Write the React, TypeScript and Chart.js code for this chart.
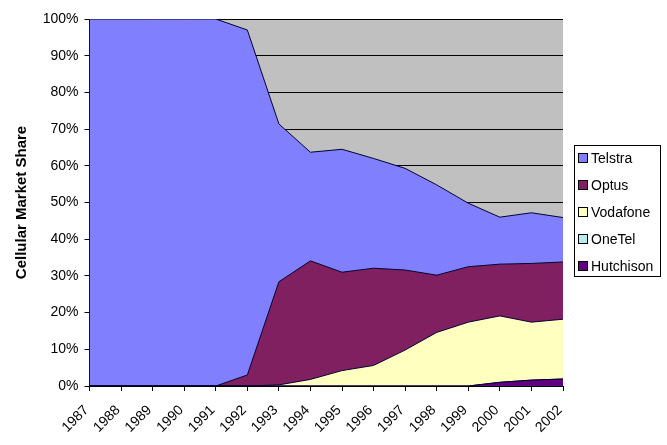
import React, { useEffect, useRef } from "react";
import { Chart, registerables } from "chart.js";

Chart.register(...registerables);

const years = ["1987", "1988", "1989", "1990", "1991", "1992", "1993", "1994", "1995", "1996", "1997", "1998", "1999", "2000", "2001", "2002"];
const telstra = [100, 100, 100, 100, 100, 94.0, 43.0, 29.6, 33.5, 29.9, 27.7, 24.6, 17.3, 12.8, 13.8, 12.1];
const optus = [0, 0, 0, 0, 0, 3.0, 28.1, 32.3, 26.8, 26.5, 21.8, 15.6, 15.1, 14.1, 16.0, 15.6];
const vodafone = [0, 0, 0, 0, 0, 0, 0.3, 1.8, 4.2, 5.6, 9.8, 14.6, 17.4, 18.1, 15.8, 16.3];
const onetel = [0, 0, 0, 0, 0, 0, 0, 0, 0, 0, 0, 0, 0, 0, 0, 0];
const hutchison = [0, 0, 0, 0, 0, 0, 0, 0, 0, 0, 0, 0, 0, 1.0, 1.6, 1.9];

const colors = {
  Telstra: "#8080FF",
  Optus: "#802060",
  Vodafone: "#FFFFC0",
  OneTel: "#B8ECEC",
  Hutchison: "#600080",
};

const legendNames = ["Telstra", "Optus", "Vodafone", "OneTel", "Hutchison"];

const plotBg = {
  id: "plotBg",
  beforeDraw(chart) {
    const { ctx, chartArea } = chart;
    ctx.save();
    ctx.fillStyle = "#C0C0C0";
    ctx.fillRect(chartArea.left, chartArea.top, chartArea.right - chartArea.left, chartArea.bottom - chartArea.top);
    ctx.restore();
  },
};

export default function App() {
  const canvasRef = useRef<HTMLCanvasElement>(null);

  useEffect(() => {
    document.body.style.margin = "0";
    const ctx = canvasRef.current?.getContext("2d");
    if (!ctx) return;

    // bottom of the stack first
    const series = [
      { name: "Hutchison", data: hutchison },
      { name: "OneTel", data: onetel },
      { name: "Vodafone", data: vodafone },
      { name: "Optus", data: optus },
      { name: "Telstra", data: telstra },
    ];

    const chart = new Chart(ctx, {
      type: "line",
      data: {
        labels: years,
        datasets: series.map((s, i) => ({
          label: s.name,
          data: s.data,
          backgroundColor: colors[s.name],
          borderColor: "#000033",
          borderWidth: 1,
          pointRadius: 0,
          tension: 0,
          fill: i === 0 ? "origin" : "-1",
        })),
      },
      options: {
        animation: false,
        responsive: false,
        layout: { padding: { left: 0, top: 19, right: 104, bottom: 0 } },
        plugins: { legend: { display: false }, tooltip: { enabled: false } },
        scales: {
          x: {
            offset: false,
            grid: { drawOnChartArea: false, drawTicks: true, tickLength: 5, color: "#000", lineWidth: 1 },
            border: { color: "#000", width: 1 },
            ticks: {
              color: "#000",
              font: { family: "Liberation Sans, Arial", size: 14 },
              minRotation: 45,
              maxRotation: 45,
              autoSkip: false,
              padding: 11,
              labelOffset: -3,
            },
            afterFit(scale) {
              scale.height = 59;
            },
          },
          y: {
            stacked: true,
            min: 0,
            max: 100,
            grid: { color: "#000", lineWidth: 1, tickLength: 5, drawTicks: true },
            border: { color: "#000", width: 1 },
            ticks: {
              stepSize: 10,
              color: "#000",
              padding: 6,
              font: { family: "Liberation Sans, Arial", size: 14 },
              callback: (v) => v + "%",
            },
            title: {
              display: true,
              text: "Cellular Market Share",
              color: "#000",
              font: { family: "Liberation Sans, Arial", size: 15, weight: "bold" },
              padding: { top: 13, bottom: 4 },
            },
            afterFit(scale) {
              scale.width = 89.5;
            },
          },
        },
      },
      plugins: [plotBg],
    });

    return () => chart.destroy();
  }, []);

  return (
    <div style={{ position: "absolute", left: 0, top: 0, width: 667, height: 445, background: "#fff" }}>
      <canvas ref={canvasRef} width={667} height={445} style={{ width: 667, height: 445 }} />
      <div
        style={{
          position: "absolute",
          left: 574,
          top: 145,
          width: 87,
          height: 132,
          border: "1px solid #000",
          boxSizing: "border-box",
          fontFamily: "Liberation Sans, Arial",
          fontSize: 14,
          color: "#000",
        }}
      >
        <div style={{ position: "relative", top: -2 }}>
          {legendNames.map((n) => (
            <div key={n} style={{ display: "flex", alignItems: "center", height: 27, paddingLeft: 3 }}>
              <span
                style={{
                  display: "inline-block",
                  width: 8,
                  height: 8,
                  background: colors[n],
                  border: "1px solid #000",
                  marginRight: 3,
                }}
              />
              {n}
            </div>
          ))}
        </div>
      </div>
    </div>
  );
}
